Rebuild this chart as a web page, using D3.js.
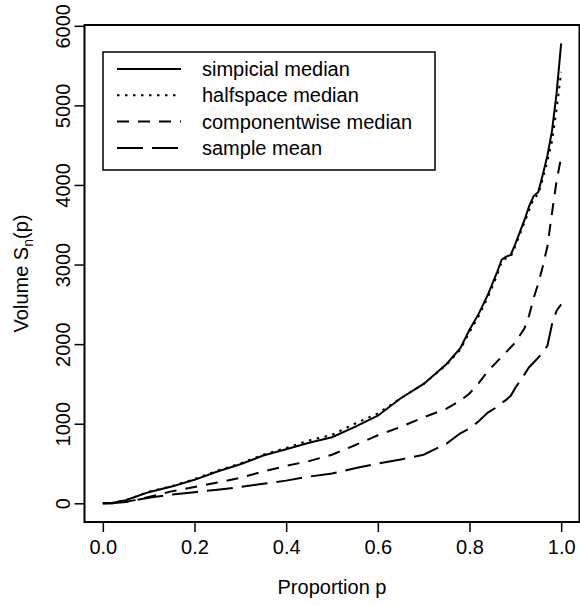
<!DOCTYPE html>
<html>
<head>
<meta charset="utf-8">
<script src="https://cdn.jsdelivr.net/npm/d3@7"></script>
<style>
  body { margin: 0; background: #fff; }
  svg text { font-family: "Liberation Sans", Arial, sans-serif; fill: #000; }
</style>
</head>
<body>
<div id="chart"></div>
<script>
// proportion grid shared by all curves
const props = [0, 0.02, 0.05, 0.07, 0.1, 0.15, 0.2, 0.25, 0.3, 0.35, 0.4, 0.45, 0.5, 0.55, 0.6, 0.65, 0.7, 0.75, 0.78, 0.8,
    0.82, 0.84, 0.86, 0.87, 0.88, 0.89, 0.9, 0.92, 0.93, 0.94, 0.95, 0.96, 0.97, 0.98, 0.99, 1.0];

const simplicial = [0, 5, 40, 80, 140, 210, 295, 400, 490, 600, 680, 760, 830, 960, 1100, 1320, 1500, 1750, 1950, 2180,
    2380, 2620, 2900, 3060, 3100, 3120, 3260, 3560, 3730, 3860, 3910, 4130, 4370, 4680, 5150, 5780];
const halfspace = [0, 5, 40, 80, 145, 215, 305, 410, 500, 610, 695, 790, 860, 1000, 1130, 1320, 1500, 1740, 1930, 2150,
    2350, 2590, 2860, 3030, 3080, 3100, 3230, 3530, 3680, 3830, 3880, 4080, 4300, 4550, 4950, 5420];
const componentwise = [0, 0, 20, 40, 80, 150, 205, 260, 320, 400, 470, 530, 610, 730, 855, 960, 1080, 1190, 1290, 1380,
    1510, 1660, 1780, 1840, 1900, 1960, 2020, 2200, 2360, 2580, 2760, 2980, 3230, 3650, 4050, 4350];
const sampleMean = [0, 0, 15, 40, 70, 110, 140, 170, 205, 245, 285, 335, 375, 440, 500, 550, 610, 750, 880, 940,
    1030, 1140, 1210, 1260, 1300, 1350, 1450, 1620, 1710, 1770, 1830, 1900, 1980, 2250, 2420, 2500];

const seriesNames = ['simpicial median', 'halfspace median', 'componentwise median', 'sample mean'];
const seriesDash = ['none', '2.5,5.5', '12,9', '26,9'];

const xTicks = [0, 0.2, 0.4, 0.6, 0.8, 1.0];
const yTicks = [0, 1000, 2000, 3000, 4000, 5000, 6000];

const w = 580, h = 605;
const m = { left: 84.5, right: 579.5, top: 25, bottom: 522 };

const svg = d3.select('#chart').append('svg')
    .attr('width', w)
    .attr('height', h);

const x = d3.scaleLinear().domain([-0.04, 1.04]).range([m.left, m.right]);
const y = d3.scaleLinear().domain([-235, 6010]).range([m.bottom, m.top]);

// curves
const allSeries = [simplicial, halfspace, componentwise, sampleMean];
const line = d3.line()
    .x((d, i) => x(props[i]))
    .y(d => y(d));

svg.selectAll('path.curve')
    .data(allSeries)
    .enter()
    .append('path')
    .attr('class', 'curve')
    .attr('d', line)
    .attr('fill', 'none')
    .attr('stroke', '#000')
    .attr('stroke-width', 2)
    .attr('stroke-dasharray', (d, i) => seriesDash[i]);

// box
svg.append('rect')
    .attr('x', m.left).attr('y', m.top)
    .attr('width', m.right - m.left).attr('height', m.bottom - m.top)
    .attr('fill', 'none').attr('stroke', '#000').attr('stroke-width', 2);

// axes
const xAxis = d3.axisBottom(x).tickValues(xTicks).tickFormat(d3.format('.1f')).tickSize(10).tickPadding(8);
const gx = svg.append('g')
    .attr('transform', 'translate(0,' + m.bottom + ')')
    .call(xAxis);
gx.select('.domain').remove();
gx.selectAll('line').attr('stroke-width', 1.5);
gx.selectAll('text').style('font-size', '20px');

const yAxis = d3.axisLeft(y).tickValues(yTicks).tickFormat(d3.format('d')).tickSize(10);
const gy = svg.append('g')
    .attr('transform', 'translate(' + m.left + ',0)')
    .call(yAxis);
gy.select('.domain').remove();
gy.selectAll('line').attr('stroke-width', 1.5);
gy.selectAll('text')
    .style('font-size', '20px')
    .attr('x', 0).attr('dy', 0)
    .attr('text-anchor', 'middle')
    .attr('dominant-baseline', 'central')
    .attr('transform', 'translate(-22,0) rotate(-90)');

// axis titles
svg.append('text')
    .attr('x', (m.left + m.right) / 2).attr('y', 594)
    .attr('text-anchor', 'middle')
    .style('font-size', '20px')
    .text('Proportion p');

const ylab = svg.append('text')
    .attr('transform', 'translate(28,' + ((m.top + m.bottom) / 2) + ') rotate(-90)')
    .attr('text-anchor', 'middle')
    .style('font-size', '20px');
ylab.append('tspan').text('Volume S');
ylab.append('tspan').attr('dy', 5).style('font-size', '14px').text('n');
ylab.append('tspan').attr('dy', -5).text('(p)');

// legend
const lg = svg.append('g');
lg.append('rect')
    .attr('x', 103).attr('y', 52)
    .attr('width', 332).attr('height', 118)
    .attr('fill', '#fff').attr('stroke', '#000').attr('stroke-width', 1.5);

const rows = lg.selectAll('g.row')
    .data(seriesNames)
    .enter()
    .append('g')
    .attr('class', 'row')
    .attr('transform', (d, i) => 'translate(0,' + (69 + i * 26.3) + ')');

rows.append('line')
    .attr('x1', 117).attr('x2', 181)
    .attr('stroke', '#000').attr('stroke-width', 2)
    .attr('stroke-dasharray', (d, i) => seriesDash[i]);

rows.append('text')
    .attr('x', 202)
    .attr('dominant-baseline', 'central')
    .style('font-size', '20px')
    .text(d => d);
</script>
</body>
</html>
